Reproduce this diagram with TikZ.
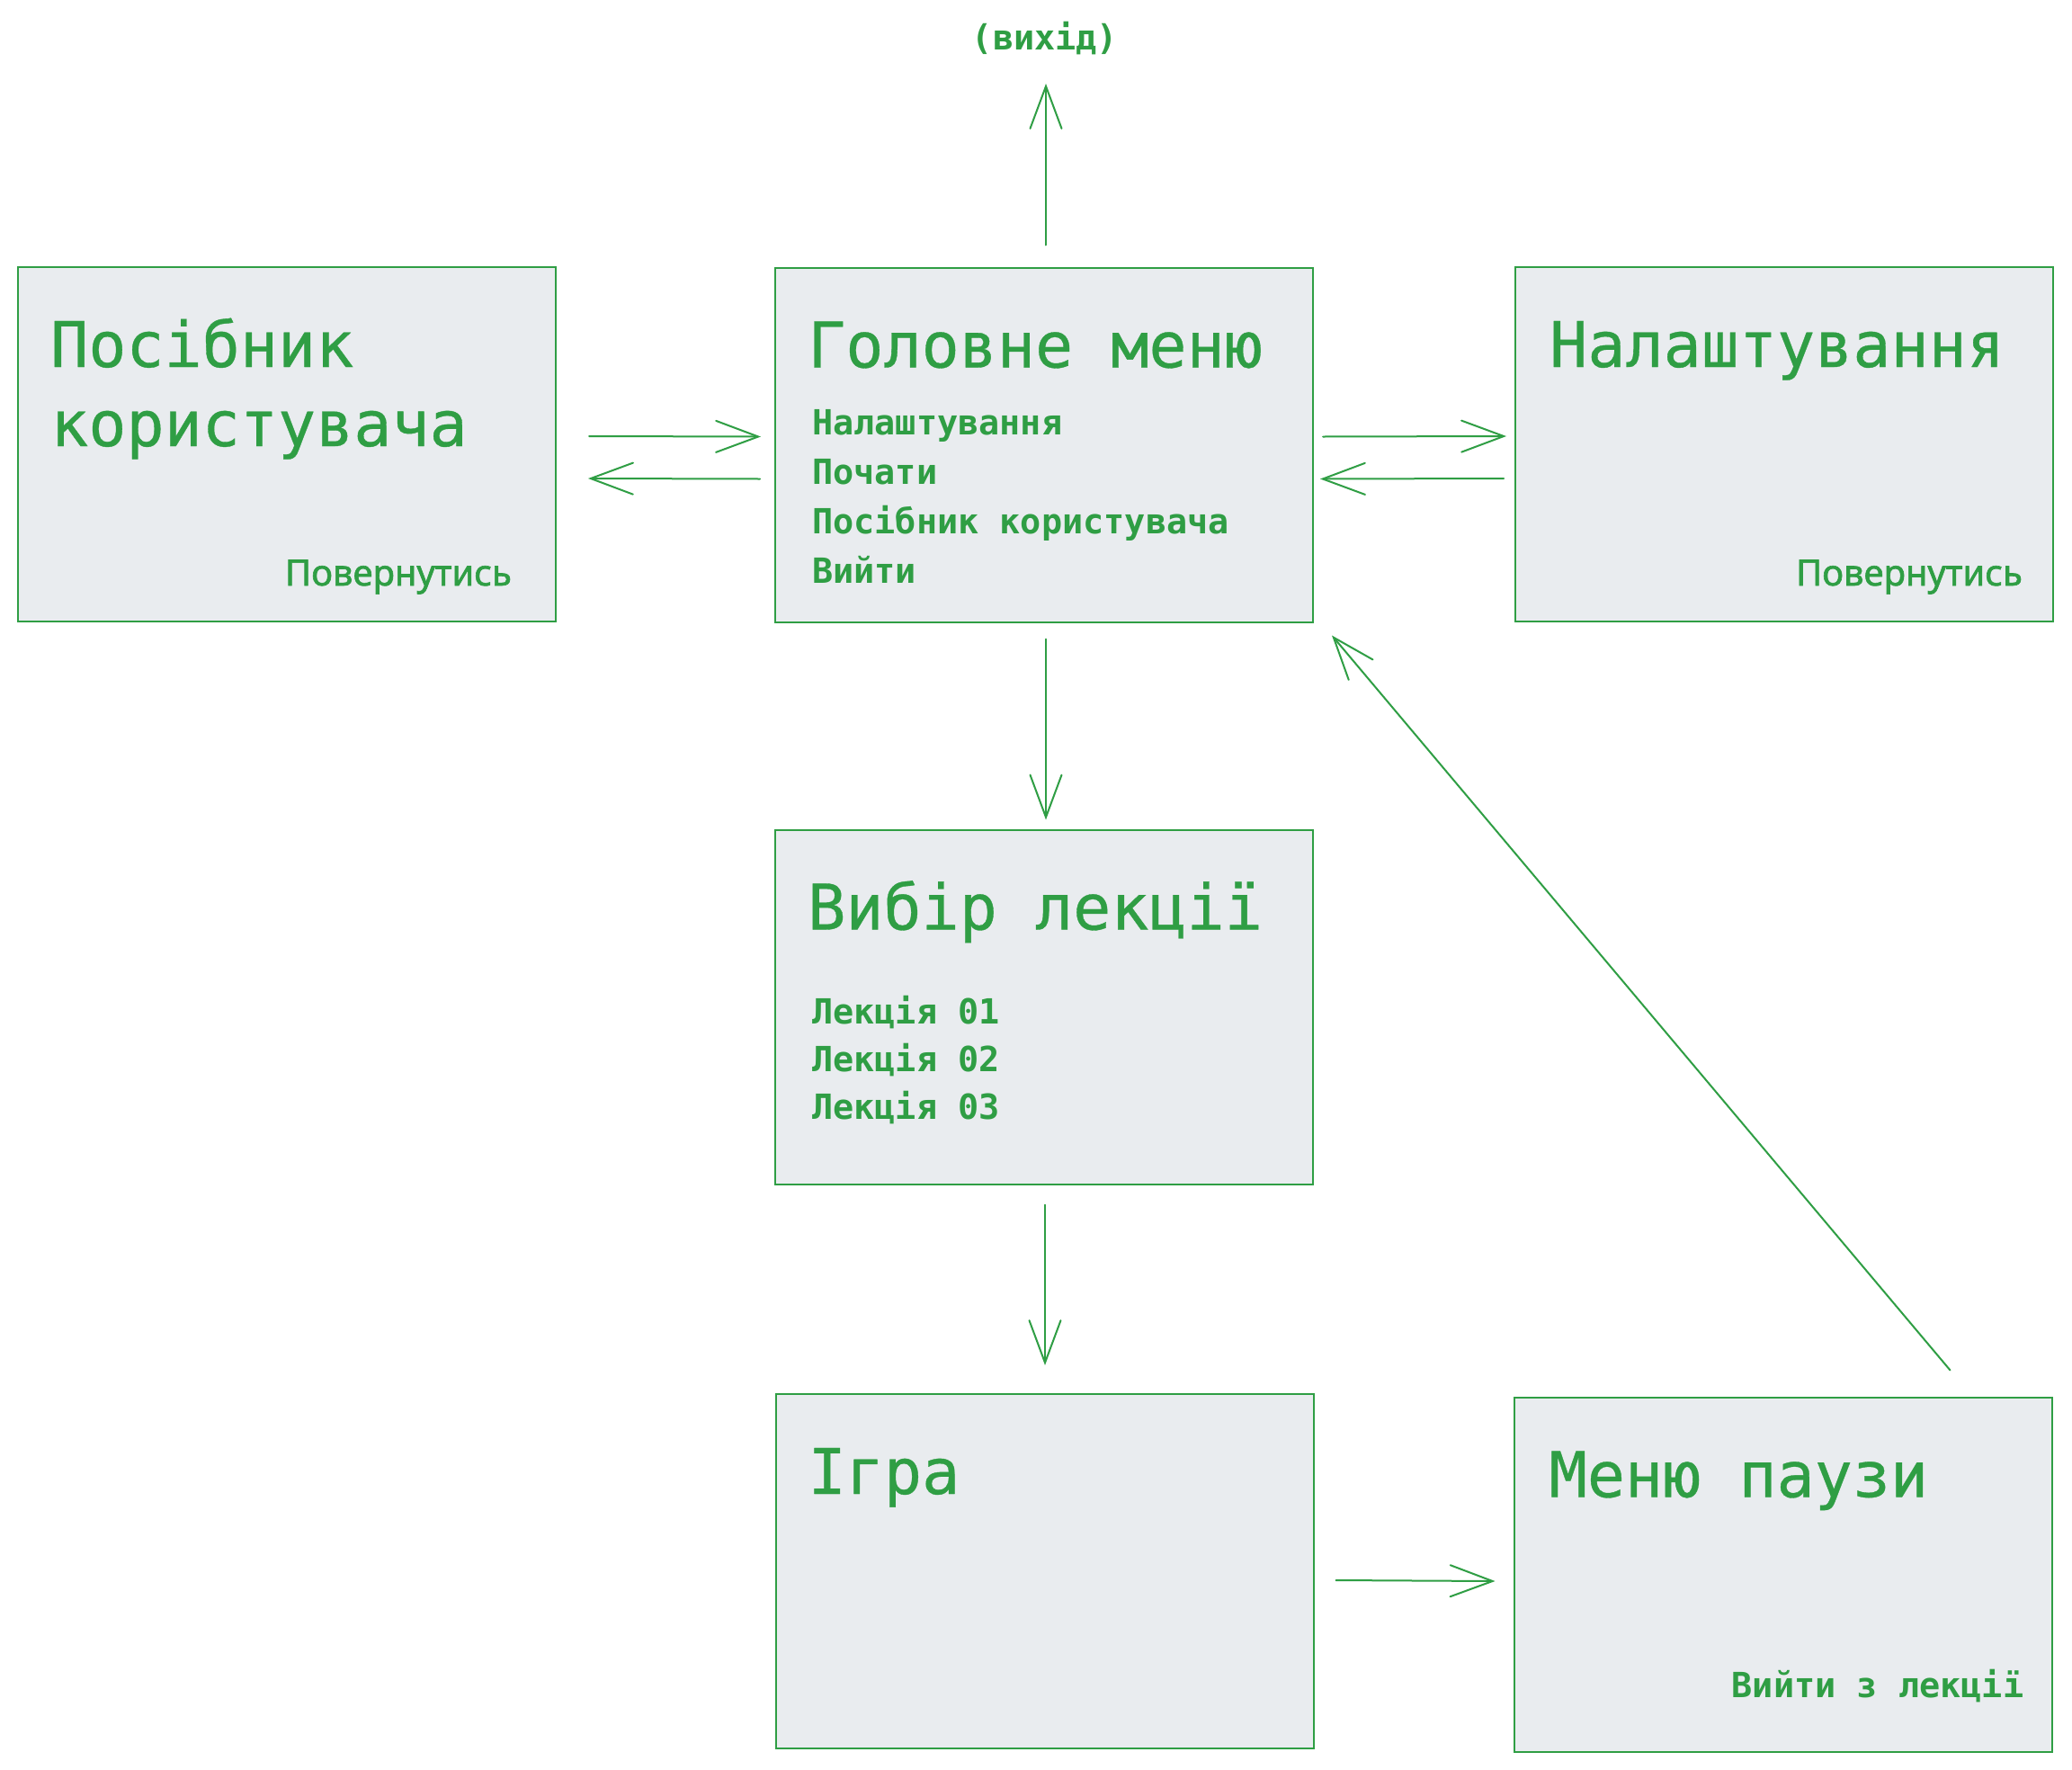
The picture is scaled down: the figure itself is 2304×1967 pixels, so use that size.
\documentclass[tikz,border=0pt]{standalone}
\usepackage{fontspec}
\usetikzlibrary{arrows.meta,calc}
\newfontfamily\monofont[FakeBold=0.5]{DejaVu Sans Mono}
\newfontfamily\itemfont{DejaVu Sans Mono}
\newfontfamily\backfont[FakeBold=1.6]{Noto Sans}
\definecolor{fg}{RGB}{47,158,68}
\definecolor{boxfill}{RGB}{233,236,239}
\begin{document}
\begin{tikzpicture}[x=1pt,y=-1pt,
  screen/.style={draw=fg, fill=boxfill, line width=2pt, minimum width=598pt, minimum height=394pt, inner sep=0pt, outer sep=0pt},
  title/.style={anchor=base west, inner sep=0pt, text=fg, font=\monofont\fontsize{70}{88}\selectfont},
  item/.style={anchor=base west, inner sep=0pt, text=fg, font=\itemfont\bfseries\fontsize{38.5}{55}\selectfont},
  backlbl/.style={anchor=base east, inner sep=0pt, text=fg, font=\backfont\fontsize{40}{55}\selectfont},
  flow/.style={draw=fg, line width=2pt, line cap=round, -{Straight Barb[length=47pt,width=35pt,line cap=round]}}]
\useasboundingbox (0,0) rectangle (2304,1967);
\fill[white] (0,0) rectangle (2304,1967);

% screens
\node[screen] (A) at (319,494) {};
\node[screen] (M) at (1161,494.5) {};
\node[screen] (S) at (1984,494) {};
\node[screen] (L) at (1161,1119.5) {};
\node[screen] (G) at (1161.5,1747) {};
\node[screen] (P) at (1982.5,1750.5) {};

% titles
\node[title] (At1) at ($(A.north west)+(36,111)$) {Посібник};
\node[title] (At2) at ($(A.north west)+(36,199)$) {користувача};
\node[title] (Mt) at ($(M.north west)+(36,111)$) {Головне меню};
\node[title] (St) at ($(S.north west)+(38,111)$) {Налаштування};
\node[title] (Lt) at ($(L.north west)+(36,111)$) {Вибір лекції};
\node[title] (Gt) at ($(G.north west)+(36,111)$) {Ігра};
\node[title] (Pt) at ($(P.north west)+(39,111)$) {Меню паузи};

% main menu items
\node[item] (M1) at ($(M.north west)+(41,186)$) {Налаштування};
\node[item] (M2) at ($(M.north west)+(41,241)$) {Почати};
\node[item] (M3) at ($(M.north west)+(41,296)$) {Посібник користувача};
\node[item] (M4) at ($(M.north west)+(41,351)$) {Вийти};

% lecture items
\node[item] (L1) at ($(L.north west)+(41,216)$) {Лекція 01};
\node[item] (L2) at ($(L.north west)+(41,269)$) {Лекція 02};
\node[item] (L3) at ($(L.north west)+(41,322)$) {Лекція 03};

% back / exit labels
\node[backlbl] (Ab) at ($(A.south east)+(-49,-40)$) {Повернутись};
\node[backlbl] (Sb) at ($(S.south east)+(-34,-40)$) {Повернутись};
\node[item, anchor=base east] (Pb) at ($(P.south east)+(-31,-60)$) {Вийти з лекції};

% exit
\node[item, anchor=base] (X) at (1162,56) {(вихід)};

% connectors
\draw[flow] ($(A.east)+(37,-9)$) -- ($(M.west)+(-16,-9)$);
\draw[flow] ($(M.west)+(-17,38)$) -- ($(A.east)+(36,38)$);
\draw[flow] ($(M.east)+(11,-9)$) -- ($(S.west)+(-10,-9)$);
\draw[flow] ($(S.west)+(-13,38)$) -- ($(M.east)+(8,38)$);
\draw[flow] ($(M.north)+(2,-25)$) -- ($(X.base)+(1,37)$);
\draw[flow] ($(M.south)+(2,19)$) -- ($(L.north)+(2,-11)$);
\draw[flow] ($(L.south)+(1,23)$) -- ($(G.north)+(0.5,-32)$);
\draw[flow] ($(G.east)+(25,10)$) -- ($(P.west)+(-21,7.5)$);
\draw[flow] ($(P.north east)+(-113,-30)$) -- ($(M.south east)+(21,15)$);
\end{tikzpicture}
\end{document}
